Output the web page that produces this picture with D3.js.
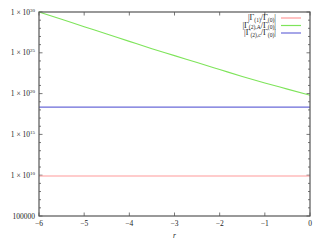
<!DOCTYPE html>
<html>
<head>
<meta charset="utf-8">
<script src="https://cdn.jsdelivr.net/npm/d3@7"></script>
<style>
  body { margin: 0; background: #fff; }
  text { font-family: "Liberation Serif", "DejaVu Serif", serif; fill: #222; }
</style>
</head>
<body>
<div id="vis"></div>
<script>
// r values and the three ratios
var rValues = [-6, -5.5, -5, -4.5, -4, -3.5, -3, -2.5, -2, -1.5, -1, -0.5, 0];
var gamma1 = [8e9, 8e9, 8e9, 8e9, 8e9, 8e9, 8e9, 8e9, 8e9, 8e9, 8e9, 8e9, 8e9];
var gamma2A = [1e30, 1.26e29, 1.58e28, 2.0e27, 2.5e26, 3.16e25, 4.5e24, 6.3e23, 8.9e22, 1.26e22, 2.0e21, 3.55e20, 6.3e19];
var gamma2c = [2.2e18, 2.2e18, 2.2e18, 2.2e18, 2.2e18, 2.2e18, 2.2e18, 2.2e18, 2.2e18, 2.2e18, 2.2e18, 2.2e18, 2.2e18];
var xTicks = [-6, -5, -4, -3, -2, -1, 0];
var yTicks = [1e5, 1e10, 1e15, 1e20, 1e25, 1e30];
var yExp = [5, 10, 15, 20, 25, 30];

var series = [
  {name: ["|Γ", "(1)", "/Γ", "(0)", "|"], values: gamma1, color: "#ff9a9a"},
  {name: ["|Γ", "(2),A", "/Γ", "(0)", "|"], values: gamma2A, color: "#7ee45a"},
  {name: ["|Γ", "(2),c", "/Γ", "(0)", "|"], values: gamma2c, color: "#6a6ad8"}
];

var W = 324, H = 243;
var margin = {top: 12, right: 14, bottom: 27, left: 39},
    width = W - margin.left - margin.right,
    height = H - margin.top - margin.bottom;

var svg = d3.select("#vis").append("svg")
    .attr("width", W).attr("height", H)
    .append("g")
    .attr("transform", "translate(" + margin.left + "," + margin.top + ")");

var x = d3.scaleLinear().domain([-6, 0]).range([0, width]);
var y = d3.scaleLog().domain([1e5, 1e30]).range([height, 0]);

// minor ticks each decade on left/right
var decades = d3.range(5, 31);
svg.selectAll(".minor").data(decades).enter().append("g").each(function (e) {
  var g = d3.select(this), yy = y(Math.pow(10, e)), len = (e % 5 === 0) ? 3.5 : 2;
  g.append("line").attr("x1", 0).attr("x2", len).attr("y1", yy).attr("y2", yy)
    .attr("stroke", "#555").attr("stroke-width", 0.8);
  g.append("line").attr("x1", width).attr("x2", width - len).attr("y1", yy).attr("y2", yy)
    .attr("stroke", "#555").attr("stroke-width", 0.8);
});

// x ticks bottom and top
xTicks.forEach(function (t) {
  svg.append("line").attr("x1", x(t)).attr("x2", x(t)).attr("y1", height).attr("y2", height - 3.5)
    .attr("stroke", "#555").attr("stroke-width", 0.8);
  svg.append("line").attr("x1", x(t)).attr("x2", x(t)).attr("y1", 0).attr("y2", 3.5)
    .attr("stroke", "#555").attr("stroke-width", 0.8);
  svg.append("text").attr("x", x(t)).attr("y", height + 10)
    .attr("text-anchor", "middle").style("font-size", "7.5px")
    .text(t < 0 ? "\u2212" + Math.abs(t) : t);
});

// y tick labels
yTicks.forEach(function (t, i) {
  var txt = svg.append("text").attr("x", -4).attr("y", y(t) + 2.5)
    .attr("text-anchor", "end").style("font-size", "7.5px");
  if (i === 0) {
    txt.text("100000");
  } else {
    txt.append("tspan").text("1 \u00d7 10");
    txt.append("tspan").attr("dy", -3).style("font-size", "5px").text(yExp[i]);
  }
});

// lines
var line = d3.line()
    .curve(d3.curveMonotoneX)
    .x(function (d, i) { return x(rValues[i]); })
    .y(function (d) { return y(d); });

series.forEach(function (s) {
  svg.append("path").datum(s.values)
    .attr("d", line)
    .attr("fill", "none")
    .attr("stroke", s.color)
    .attr("stroke-width", 1.1);
});

// frame
svg.append("rect").attr("width", width).attr("height", height)
  .attr("fill", "none").attr("stroke", "#555").attr("stroke-width", 1.2);

// axis label
svg.append("text").attr("x", x(-3)).attr("y", height + 22)
  .attr("text-anchor", "middle").style("font-size", "7.5px").style("font-style", "italic")
  .text("r");

// legend
var legend = svg.selectAll(".legend").data(series).enter().append("g")
  .attr("transform", function (d, i) { return "translate(0," + (5.5 + i * 7.5) + ")"; });

legend.append("line").attr("x1", 242).attr("x2", 262).attr("y1", 0.5).attr("y2", 0.5)
  .attr("stroke", function (d) { return d.color; }).attr("stroke-width", 1.2);

legend.append("text").attr("x", 237).attr("y", 2.6)
  .attr("text-anchor", "end").style("font-size", "8.2px")
  .each(function (d) {
    var t = d3.select(this);
    t.append("tspan").text(d.name[0]);
    t.append("tspan").attr("dy", 1.5).style("font-size", "5.6px").text(d.name[1]);
    t.append("tspan").attr("dy", -1.5).text(d.name[2]);
    t.append("tspan").attr("dy", 1.5).style("font-size", "5.6px").text(d.name[3]);
    t.append("tspan").attr("dy", -1.5).text(d.name[4]);
  });
</script>
</body>
</html>
